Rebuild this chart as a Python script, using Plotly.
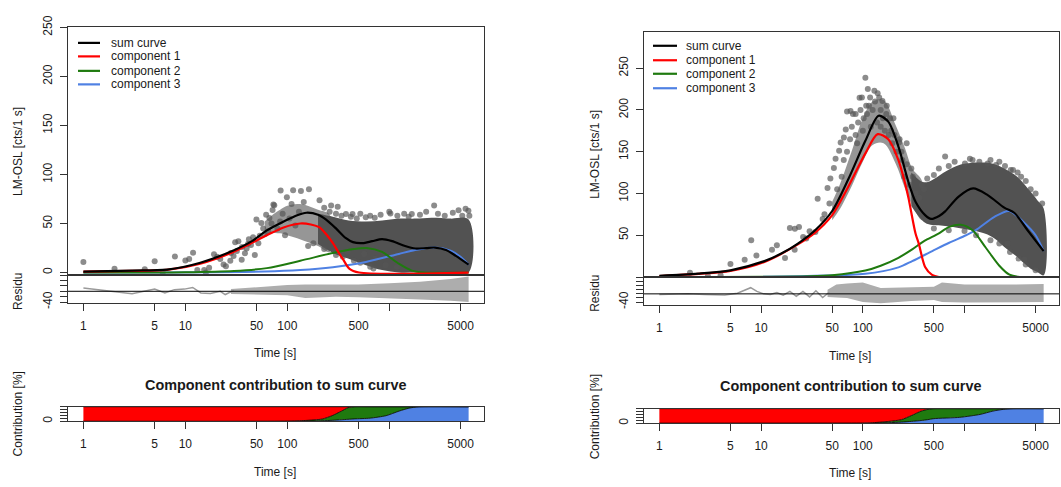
import plotly.graph_objects as go

W, H = 1061, 487
FONT = "Liberation Sans, Arial, sans-serif"
FRAME = "#333333"
TXT = "#1a1a1a"

C_SUM, C_1, C_2, C_3 = "#000000", "#ff0000", "#1f7a0f", "#4f81e3"
PT = "rgba(85,85,85,0.68)"
CLOUD_SPARSE = "rgba(85,85,85,0.62)"
CLOUD_DENSE = "#525252"
RES = "#adadad"

TIME_TICKS = [1, 5, 10, 50, 100, 500, 1000, 5000]
TIME_TICK_TEXT = ["1", "5", "10", "50", "100", "500", "", "5000"]
X_RANGE = [-0.151, 3.929]

# ---------------- left measurement ----------------
L_sum_t = [1, 3, 6.6, 14, 30, 45, 63, 92, 125, 154, 200, 240, 300, 376, 440, 545, 680, 850, 1065, 1430, 1800, 2300, 2800, 3600, 4500, 6000]
L_sum = [1, 2, 3, 10, 22.8, 32, 43, 52, 58.5, 61, 59, 54, 45, 35, 31, 30, 32, 34, 32, 27, 24.5, 25, 25.5, 23, 17, 8]
L_c1_t = [1, 3, 6.6, 14, 29.6, 63, 92, 134, 170, 207, 245, 280, 320, 350, 405, 505, 6000]
L_c1 = [1, 1.6, 2.7, 9, 21, 38, 46, 50, 49, 46, 38, 30, 20, 14, 4, 0, 0]
L_c2_t = [1, 10, 30, 63, 134, 280, 450, 600, 850, 1240, 1660, 2200, 6000]
L_c2 = [0, 0.3, 1.6, 4.5, 12, 20, 24, 25, 21, 9, 2, 0, 0]
L_c3_t = [1, 60, 134, 280, 590, 1240, 1790, 2800, 4050, 5000, 6000]
L_c3 = [0, 1, 2.5, 5.5, 10.8, 19, 23, 25.5, 22, 16, 8]

L_pts_t = [1.0, 2.02, 4.0, 5.0, 6.0, 7.9, 10, 10.9, 11.9, 13.1, 15.3, 15.9, 17.1, 19.1, 20.5, 22, 23.7, 25,
           27.6, 29.7, 30.8, 33.1, 35.7, 38.4, 39.9, 41.3, 46.2, 48, 49.8, 53.7, 55.6, 59.7, 62, 66.7, 71.7,
           74.5, 73, 86, 99, 114, 136, 163, 207, 269, 312, 376, 436, 588, 822, 1025, 1663, 2755, 4780, 5970,
           6100, 160, 390, 566, 730, 920, 1190, 80, 90, 105, 110, 120, 130, 145, 95, 85, 70, 65, 58, 52, 44,
           42, 36, 32, 28,
           230, 260, 300, 340, 420, 480, 520, 650, 720, 1000, 1200, 1400, 1550, 2000, 2300, 3000, 3500, 4200,
           5200, 5600, 180, 230, 300, 350, 450, 520, 650, 700]
L_pts = [10.8, 3.9, 3.3, 11.4, 0, 16.3, 12.4, 13.7, 20.3, 2.6, 2.6, 0, 4.9, 18.6, 16, 13.7, 8.2, 6.5,
         12, 17, 31, 32, 13, 19.6, 24.5, 29.4, 36, 18, 54, 37.6, 50.6, 39, 59, 55.6, 63.7,
         68.6, 69.5, 83.6, 76.7, 84, 83.2, 85, 73.7, 68.5, 67, 59.7, 59.7, 56.4, 59, 60.3, 59.7, 68.5, 63.6, 63,
         58, 27, 21, 19, 14, 7.5, 5.7, 45, 60, 55, 70, 48, 62, 72, 38, 52, 50, 42, 45, 30, 28,
         34, 26, 22, 20,
         66, 62, 60, 58, 57, 55, 60, 58, 56, 62, 58, 60, 57, 59, 62, 60, 58, 61,
         58, 65, 30, 24, 18, 16, 12, 10, 6, 4]

L_cloud_sparse_t = [60, 70, 85, 100, 125, 150, 200, 260]
L_cloud_sparse_up = [52, 58, 64, 68, 70, 69, 64, 59]
L_cloud_sparse_lo = [36, 40, 40, 38, 35, 32, 27, 21]
L_cloud_t = [200, 280, 400, 590, 850, 1240, 1800, 2590, 4000, 6000]
L_cloud_up = [60, 57, 53, 52, 53, 55, 55, 56, 55, 54]
L_cloud_lo = [29, 20, 14, 7.5, 2.5, 0, 0, 0, 0, 0]

L_res_t = [1, 1.65, 3, 5, 6.3, 7.8, 9.8, 11.8, 14.2, 17.6, 22, 24.6, 30]
L_res = [12, 3.5, -9, 8, -6, 6, 8, 14, -6, -8, 0, -12, 3.5]
L_res_band_t = [28, 50, 100, 150, 300, 500, 1000, 2000, 4000, 6000]
L_res_up = [8, 15, 23, 25, 25, 25, 30, 35, 45, 55]
L_res_lo = [-10, -12, -15, -25, -20, -22, -25, -30, -35, -40]

L_share_t = [1, 100, 150, 220, 275, 340, 393, 455, 650, 930, 1250, 1560, 1950, 6000]
L_share_c3 = [0, 0, 1, 3, 6, 10, 13, 16, 21, 38, 70, 90, 100, 100]
L_share_c23 = [0, 1, 5, 15, 38, 70, 93, 100, 100, 100, 100, 100, 100, 100]

# ---------------- right measurement ----------------
R_sum_t = [1, 2.4, 5, 10.8, 15.8, 23, 34, 50, 72, 106, 143, 178, 224, 263, 282, 330, 410, 470, 563, 645, 870, 1216, 1690, 2460, 3100, 4170, 6000]
R_sum = [1.5, 4, 8, 19, 28, 40, 56, 79, 117, 163, 193, 186, 156, 126, 113, 90, 74, 69.5, 73, 78.5, 96, 106, 98, 83, 76.6, 56, 31]
R_c1_t = [1, 5, 10.8, 23, 34, 50, 72, 106, 140, 178, 224, 263, 282, 330, 355, 410, 480, 560, 6000]
R_c1 = [1.2, 7.3, 18, 39, 53, 74, 108, 148, 171, 165, 140, 110, 94, 52, 40, 12, 2.5, 0, 0]
R_c2_t = [1, 30, 50, 106, 150, 224, 306, 400, 555, 707, 920, 1200, 1620, 2200, 2770, 3500, 6000]
R_c2 = [0, 0.8, 2, 7.7, 13.5, 23, 33, 43, 52, 60, 62.5, 56, 35, 13.5, 2.7, 0, 0]
R_c3_t = [1, 106, 224, 306, 482, 707, 1035, 1290, 1970, 2750, 3860, 5000, 6000]
R_c3 = [0, 3.8, 11.5, 19, 31, 41, 50, 56, 72, 79, 65, 50, 31]

R_pts_t = [2, 3, 4, 5, 6.9, 8, 9, 12.8, 14.3, 17.2, 19.2, 21.5, 23.6, 25.9, 27.8, 30, 34.2, 21.4, 36,
           40.3, 45, 48, 52, 54, 58.5, 60.6, 65.2, 68, 70, 75.8, 93, 80, 106, 130, 140, 156, 227, 270,
           645, 1130, 1010, 1690, 2040, 2850, 3330, 4470, 2650, 3860, 445, 420, 85, 90, 100, 110, 115,
           120, 150, 170, 190, 200, 240, 300, 62, 56, 47, 42,
           65, 70, 75, 78, 85, 88, 95, 98, 102, 108, 112, 118, 125, 132, 138, 145, 150, 158, 165, 172,
           180, 185, 195, 205, 215, 230, 245, 255, 270, 290, 310, 330, 360, 380, 400, 430,
           500, 560, 700, 800, 1200, 1400, 1800, 2200, 2500, 3000, 3600, 4000, 5000, 5800,
           500, 700, 1000, 1300, 1800, 2200, 2800, 3400, 4000, 5000]
R_pts = [5, 1.2, 2, 15.6, 20.6, 44, 25.8, 32.5, 38, 22.7, 58.6, 57.8, 59.7, 48, 46, 54.7, 54, 32.5, 93.6,
         69.5, 106.5, 118, 130.6, 141.5, 151, 161, 167, 176.6, 198, 198.8, 214.5, 195, 238.6, 223, 220, 210.6, 161, 160,
         144.4, 141.7, 136, 136, 134, 128, 125, 105, 40, 21, 67.8, 70, 170, 185, 175, 195, 205,
         180, 200, 195, 175, 190, 150, 130, 120, 105, 88, 75,
         140, 150, 165, 180, 195, 160, 200, 215, 190, 205, 225, 215, 200, 210, 185, 215, 180, 190, 175, 205,
         170, 190, 160, 170, 150, 165, 140, 120, 135, 110, 120, 100, 95, 110, 105, 118,
         122, 130, 133, 138, 140, 138, 140, 138, 133, 128, 120, 115, 100, 88,
         58, 56, 55, 50, 44, 40, 30, 22, 15, 8]

R_cloud_sparse_t = [50, 60, 80, 100, 125, 160, 210, 260, 306, 382]
R_cloud_sparse_up = [90, 112, 155, 190, 210, 212, 182, 154, 130, 115]
R_cloud_sparse_lo = [68, 82, 112, 138, 158, 160, 136, 106, 86, 68]
R_cloud_t = [300, 382, 445, 645, 935, 1580, 1970, 2460, 3300, 4470, 5200, 6000]
R_cloud_up = [125, 114, 114, 126, 135, 137, 135, 130, 120, 102, 92, 82]
R_cloud_lo = [85, 68, 63, 61, 58, 52, 46, 36, 24, 10, 6, 2]

R_res_t = [1, 1.9, 2.8, 4.4, 5.85, 7.9, 9.1, 10.6, 12.3, 14.3, 16.5, 19.2, 22.2, 25.8, 30, 34.6, 40.3, 46.8]
R_res = [-3, 0, -3, -5, 3, 30, 12, 0, -3, 6, -6, 12, -12, 12, -15, 15, -18, 8]
R_res_band_t = [45, 55, 70, 100, 150, 300, 500, 600, 1000, 3000, 6000]
R_res_up = [20, 45, 50, 55, 28, 30, 35, 55, 45, 45, 48]
R_res_lo = [-15, -18, -20, -40, -46, -35, -30, -40, -42, -42, -40]

R_share_t = [1, 100, 120, 180, 240, 300, 375, 436, 500, 900, 1420, 1900, 2400, 3000, 6000]
R_share_c3 = [0, 0, 1, 3, 7, 12, 18, 24, 31, 40, 60, 83, 95, 100, 100]
R_share_c23 = [0, 1, 2, 12, 24, 52, 83, 95, 100, 100, 100, 100, 100, 100, 100]


def fx(p):
    return p / W


def fy(p):
    return 1 - p / H


fig = go.Figure()


def add_panel(k, t_pts, pts, cs_t, cs_up, cs_lo, cd_t, cd_up, cd_lo, curves,
              res_t, res, rb_t, rb_up, rb_lo, sh_t, sh3, sh23):
    xm, ym = f"x{k}", f"y{k}"
    xr, yr = f"x{k+1}", f"y{k+1}"
    xc, yc = f"x{k+2}", f"y{k+2}"
    # measured signal: sparse and dense parts of the point cloud
    fig.add_trace(go.Scatter(x=cs_t + cs_t[::-1], y=cs_up + cs_lo[::-1], fill="toself",
                             fillcolor=CLOUD_SPARSE, line=dict(width=0, shape="spline"),
                             mode="lines", xaxis=xm, yaxis=ym, hoverinfo="skip"))
    fig.add_trace(go.Scatter(x=cd_t + cd_t[::-1], y=cd_up + cd_lo[::-1], fill="toself",
                             fillcolor=CLOUD_DENSE, line=dict(width=0, shape="spline"),
                             mode="lines", xaxis=xm, yaxis=ym, hoverinfo="skip"))
    fig.add_trace(go.Scatter(x=t_pts, y=pts, mode="markers", xaxis=xm, yaxis=ym,
                             marker=dict(size=6, color=PT, line=dict(width=0))))
    # fitted curves
    for (ct, cv, col, w) in curves:
        fig.add_trace(go.Scatter(x=ct, y=cv, mode="lines", xaxis=xm, yaxis=ym,
                                 line=dict(color=col, width=w, shape="spline", smoothing=0.8)))
    # residuals
    fig.add_trace(go.Scatter(x=rb_t + rb_t[::-1], y=rb_up + rb_lo[::-1], fill="toself",
                             fillcolor=RES, line=dict(width=0), mode="lines",
                             xaxis=xr, yaxis=yr, hoverinfo="skip"))
    fig.add_trace(go.Scatter(x=res_t, y=res, mode="lines", xaxis=xr, yaxis=yr,
                             line=dict(color="#9a9a9a", width=1.5)))
    # contribution of each component (stacked, %)
    fig.add_trace(go.Scatter(x=sh_t, y=sh3, mode="lines", fill="tozeroy", fillcolor=C_3,
                             line=dict(color="#000000", width=0.8, shape="spline", smoothing=0.6),
                             xaxis=xc, yaxis=yc))
    fig.add_trace(go.Scatter(x=sh_t, y=sh23, mode="lines", fill="tonexty", fillcolor=C_2,
                             line=dict(color="#000000", width=0.8, shape="spline", smoothing=0.6),
                             xaxis=xc, yaxis=yc))
    fig.add_trace(go.Scatter(x=sh_t, y=[100] * len(sh_t), mode="lines", fill="tonexty",
                             fillcolor=C_1, line=dict(color="#000000", width=0.8),
                             xaxis=xc, yaxis=yc))


add_panel(1, L_pts_t, L_pts, L_cloud_sparse_t, L_cloud_sparse_up, L_cloud_sparse_lo,
          L_cloud_t, L_cloud_up, L_cloud_lo,
          [(L_c3_t, L_c3, C_3, 2), (L_c2_t, L_c2, C_2, 2), (L_c1_t, L_c1, C_1, 2.2),
           (L_sum_t, L_sum, C_SUM, 2.2)],
          L_res_t, L_res, L_res_band_t, L_res_up, L_res_lo, L_share_t, L_share_c3, L_share_c23)
add_panel(4, R_pts_t, R_pts, R_cloud_sparse_t, R_cloud_sparse_up, R_cloud_sparse_lo,
          R_cloud_t, R_cloud_up, R_cloud_lo,
          [(R_c3_t, R_c3, C_3, 2), (R_c2_t, R_c2, C_2, 2), (R_c1_t, R_c1, C_1, 2.2),
           (R_sum_t, R_sum, C_SUM, 2.2)],
          R_res_t, R_res, R_res_band_t, R_res_up, R_res_lo, R_share_t, R_share_c3, R_share_c23)

tickfont = dict(family=FONT, size=12, color=TXT)


def x_axis(left, right, anchor, labels):
    return dict(type="log", range=X_RANGE, domain=[fx(left), fx(right)], anchor=anchor,
                showline=True, mirror=True, linecolor=FRAME, linewidth=1, showgrid=False,
                zeroline=False, ticks="outside" if labels else "", ticklen=7, tickcolor=FRAME,
                tickvals=TIME_TICKS, ticktext=TIME_TICK_TEXT, showticklabels=labels,
                tickfont=tickfont, ticklabelstandoff=4)


def y_axis(top, bottom, anchor, rng, vals, text):
    return dict(range=rng, domain=[fy(bottom), fy(top)], anchor=anchor, showline=True,
                mirror=True, linecolor=FRAME, linewidth=1, showgrid=False, zeroline=False,
                ticks="outside", ticklen=7, tickcolor=FRAME, tickvals=vals, ticktext=text,
                tickangle=-90, tickfont=tickfont, ticklabelstandoff=3)


LM_MAIN_TICKS = [0, 50, 100, 150, 200, 250]
RES_TICKS = [-40, -20, 0, 20, 40, 60]
RES_TICKS_R = [-40, -20, 0, 20, 40, 60, 80]
SHARE_TICKS = [0, 20, 40, 60, 80, 100]

layout_axes = dict(
    xaxis=x_axis(68, 484, "y", False),
    yaxis=y_axis(16, 272, "x", [-2, 250], LM_MAIN_TICKS, [str(v) for v in LM_MAIN_TICKS]),
    xaxis2=x_axis(68, 484, "y2", True),
    yaxis2=y_axis(272, 302, "x2", [-45, 62], RES_TICKS, ["-40", "", "", "", "", ""]),
    xaxis3=x_axis(68, 484, "y3", True),
    yaxis3=y_axis(409, 424, "x3", [0, 100], SHARE_TICKS, ["0", "", "", "", "", ""]),
    xaxis4=x_axis(644, 1059, "y4", False),
    yaxis4=y_axis(21, 275, "x4", [-0.5, 293], LM_MAIN_TICKS[1:], [str(v) for v in LM_MAIN_TICKS[1:]]),
    xaxis5=x_axis(644, 1059, "y5", True),
    yaxis5=y_axis(275, 304, "x5", [-56, 80], RES_TICKS_R, ["-40", "", "", "", "", "", ""]),
    xaxis6=x_axis(644, 1059, "y6", True),
    yaxis6=y_axis(411, 426, "x6", [0, 100], SHARE_TICKS, ["0", "", "", "", "", ""]),
)

shapes = []
annotations = []

# zero lines of the residual panels
for xr, yr in (("x2", "y2"), ("x5", "y5")):
    shapes.append(dict(type="line", xref=f"{xr} domain", yref=yr, x0=0, x1=1, y0=0, y1=0,
                       line=dict(color="#000000", width=1)))


def text(x, y, s, size=12, angle=0, bold=False, xanchor="center"):
    annotations.append(dict(x=fx(x), y=fy(y), xref="paper", yref="paper", text=f"<b>{s}</b>" if bold else s,
                            showarrow=False, textangle=angle, xanchor=xanchor, yanchor="middle",
                            font=dict(family=FONT, size=size, color=TXT)))


# legends
LEGEND = [("sum curve", C_SUM), ("component 1", C_1), ("component 2", C_2), ("component 3", C_3)]
for (x0, x1, xt, ys) in ((78, 100, 109, [32, 46, 61, 75]), (653, 677, 684, [35, 50, 64, 79])):
    for (label, col), yy in zip(LEGEND, ys):
        shapes.append(dict(type="line", xref="paper", yref="paper", x0=fx(x0), x1=fx(x1),
                           y0=fy(yy), y1=fy(yy), line=dict(color=col, width=2.2)))
        text(xt, yy, label, size=12, xanchor="left")

# axis titles and panel titles
for (xc, ylab_x, tmain, tcontrib, ttitle, ylm, yres, ycon) in (
        (275, 18, 353, 477, 387, 145, 290, 417),
        (850, 595, 356, 478, 388, 148, 292, 420)):
    text(xc, tmain, "Time [s]")
    text(xc, tcontrib, "Time [s]")
    text(xc, ttitle, "Component contribution to sum curve", size=14.4, bold=True)
    text(ylab_x, ylm, "LM-OSL [cts/1 s]", angle=-90)
    text(ylab_x, yres, "Residu", angle=-90)
    text(ylab_x, ycon, "Contribution [%]", angle=-90)

fig.update_layout(
    width=W, height=H, margin=dict(l=0, r=0, t=0, b=0), showlegend=False,
    paper_bgcolor="white", plot_bgcolor="white", font=dict(family=FONT, size=12, color=TXT),
    shapes=shapes, annotations=annotations, **layout_axes)

fig.write_html("out.html")
